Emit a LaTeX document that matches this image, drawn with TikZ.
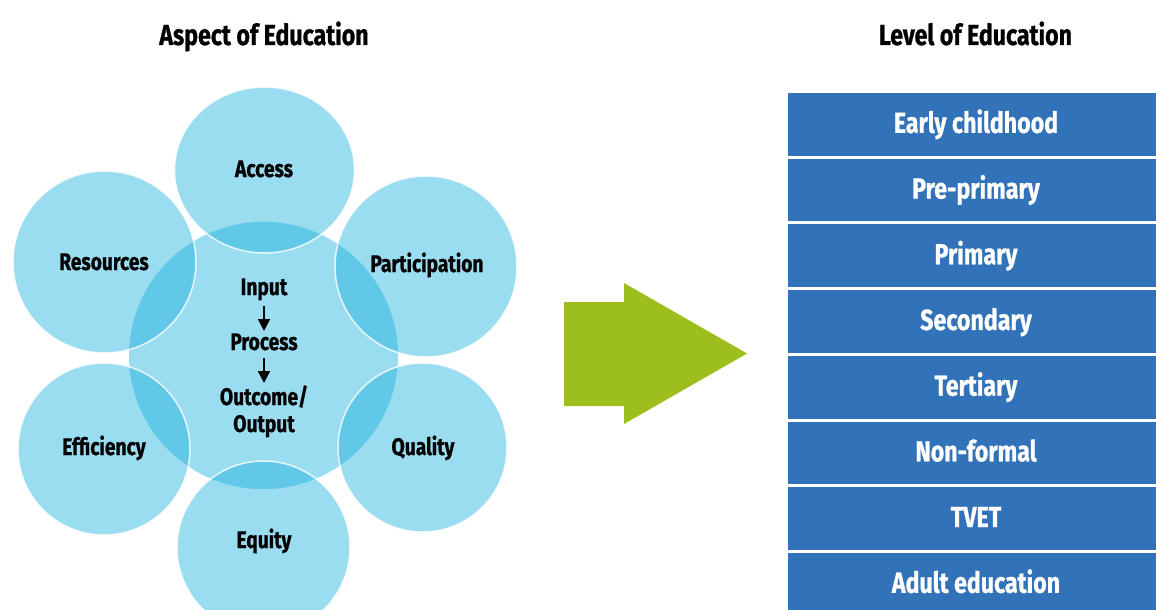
\documentclass[tikz,border=0pt]{standalone}
\usepackage{fontspec}
\setmainfont{Fira Sans}[FakeStretch=0.8,BoldFeatures={FakeBold=0.8}]
\usetikzlibrary{arrows.meta}
\definecolor{bubble}{RGB}{22,176,220}
\definecolor{lvlblue}{RGB}{49,114,185}
\definecolor{arrgreen}{RGB}{157,191,30}
\begin{document}
\begin{tikzpicture}[x=1pt,y=-1pt,
  bub/.style={fill=bubble,fill opacity=0.43,draw=white,draw opacity=0.8,line width=1.5pt},
  core/.style={fill=bubble,fill opacity=0.43},
  lab/.style={font=\fontsize{24}{24}\selectfont\bfseries,anchor=base,inner sep=0pt},
  ttl/.style={font=\fontsize{29}{29}\selectfont\bfseries,anchor=base,inner sep=0pt},
  lvl/.style={fill=lvlblue,text=white,font=\fontsize{29}{29}\selectfont\bfseries,
    minimum width=376pt,minimum height=62.7pt,text height=17pt,text depth=0pt,inner sep=0pt},
  flow/.style={-{Triangle[width=12pt,length=12pt]},line width=1.8pt}]
\useasboundingbox (0,0) rectangle (1156,610);
\clip (0,0) rectangle (1156,610);

% titles
\node[ttl] (t1) at (264,45) {Aspect of Education};
\node[ttl] (t2) at (975.5,45) {Level of Education};

% circles
\path[core] (263.5,355.5) ellipse [x radius=134.5pt, y radius=133.7pt];
\path[bub] (264.5,170) ellipse [x radius=90pt, y radius=83pt];
\path[bub] (426,266.5) ellipse [x radius=91pt, y radius=90.5pt];
\path[bub] (422.5,447.5) ellipse [x radius=84.5pt, y radius=84.5pt];
\path[bub] (263.5,547.5) ellipse [x radius=86.5pt, y radius=86.5pt];
\path[bub] (104,449) ellipse [x radius=86pt, y radius=86pt];
\path[bub] (104.5,262) ellipse [x radius=91.5pt, y radius=91pt];

% circle labels
\node[lab] (acc) at (264,177) {Access};
\node[lab] (res) at (104,270) {Resources};
\node[lab] (par) at (427,272) {Participation};
\node[lab] (eff) at (104,455) {Efficiency};
\node[lab] (qua) at (423,455) {Quality};
\node[lab] (equ) at (264,548) {Equity};

% inner flow
\node[lab] (inp) at (264,295) {Input};
\node[lab] (pro) at (264,350) {Process};
\node[lab] (out1) at (264,405) {Outcome/};
\node[lab] (out2) at (264,432) {Output};
\draw[flow] ([yshift=-11pt]inp.base) -- ([yshift=19pt]pro.base);
\draw[flow] ([yshift=-8pt]pro.base) -- ([yshift=22pt]out1.base);

% big arrow
\fill[arrgreen] (564,302) -- (624,302) -- (624,283) -- (747,353.5) -- (624,424) -- (624,406) -- (564,406) -- cycle;

% levels
\node[lvl] (l1) at (976,124.35) {Early childhood};
\node[lvl] (l2) at (976,190.05) {Pre-primary};
\node[lvl] (l3) at (976,255.75) {Primary};
\node[lvl] (l4) at (976,321.45) {Secondary};
\node[lvl] (l5) at (976,387.15) {Tertiary};
\node[lvl] (l6) at (976,452.85) {Non-formal};
\node[lvl] (l7) at (976,518.55) {TVET};
\node[lvl] (l8) at (976,584.25) {Adult education};
\end{tikzpicture}
\end{document}
